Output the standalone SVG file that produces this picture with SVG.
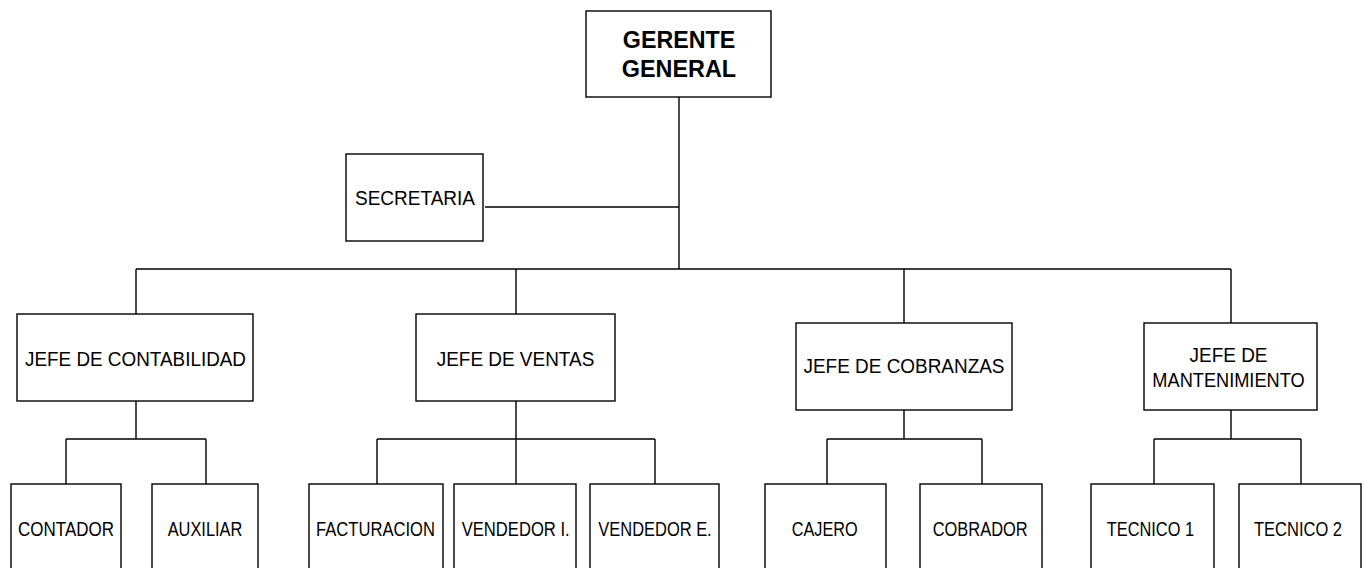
<svg xmlns="http://www.w3.org/2000/svg" width="1364" height="568" viewBox="0 0 1364 568">
  <style>
    .box { fill: #fff; stroke: #000; stroke-width: 1.4; }
    .line { fill: none; stroke: #000; stroke-width: 1.4; }
    text { font-family: "Liberation Sans", Arial, sans-serif; font-size: 20px; fill: #000; text-anchor: middle; }
    .title { font-size: 24px; font-weight: bold; }
  </style>
  <rect width="1364" height="568" fill="#fff"/>

  <!-- connectors -->
  <g id="connectors" class="line">
    <path d="M679 97 V269"/>
    <path d="M485 207 H679"/>
    <path d="M136 269 H1231"/>
    <path d="M136 269 V314 M516 269 V314 M904 269 V323 M1231 269 V323"/>
    <!-- contabilidad -->
    <path d="M136 401 V439 M66 439 H206 M66 439 V484 M206 439 V484"/>
    <!-- ventas -->
    <path d="M516 401 V439 M377 439 H655 M377 439 V484 M516 439 V484 M655 439 V484"/>
    <!-- cobranzas -->
    <path d="M904 410 V439 M827 439 H982 M827 439 V484 M982 439 V484"/>
    <!-- mantenimiento -->
    <path d="M1231 410 V439 M1154 439 H1301 M1154 439 V484 M1301 439 V484"/>
  </g>

  <g id="gerente">
    <rect class="box" x="586" y="11" width="185" height="86"/>
    <text class="title" x="679" y="48.3" textLength="112.3" lengthAdjust="spacingAndGlyphs">GERENTE</text>
    <text class="title" x="679" y="76.7" textLength="114.3" lengthAdjust="spacingAndGlyphs">GENERAL</text>
  </g>
  <g id="secretaria">
    <rect class="box" x="346" y="154" width="137" height="87"/>
    <text x="415" y="205" textLength="120" lengthAdjust="spacingAndGlyphs">SECRETARIA</text>
  </g>

  <g id="jefe-contabilidad">
    <rect class="box" x="17" y="314" width="236" height="87"/>
    <text x="135.5" y="365.5" textLength="221" lengthAdjust="spacingAndGlyphs">JEFE DE CONTABILIDAD</text>
  </g>
  <g id="jefe-ventas">
    <rect class="box" x="416" y="314" width="199" height="87"/>
    <text x="515.5" y="365.5" textLength="157.6" lengthAdjust="spacingAndGlyphs">JEFE DE VENTAS</text>
  </g>
  <g id="jefe-cobranzas">
    <rect class="box" x="796" y="323" width="216" height="87"/>
    <text x="904" y="373.3" textLength="201" lengthAdjust="spacingAndGlyphs">JEFE DE COBRANZAS</text>
  </g>
  <g id="jefe-mantenimiento">
    <rect class="box" x="1144" y="323" width="173" height="87"/>
    <text x="1228.5" y="362.3" textLength="78" lengthAdjust="spacingAndGlyphs">JEFE DE</text>
    <text x="1228.5" y="387.3" textLength="152.3" lengthAdjust="spacingAndGlyphs">MANTENIMIENTO</text>
  </g>

  <g id="contador">
    <rect class="box" x="11" y="484" width="110" height="95"/>
    <text x="66" y="536" textLength="96" lengthAdjust="spacingAndGlyphs">CONTADOR</text>
  </g>
  <g id="auxiliar">
    <rect class="box" x="152" y="484" width="106" height="95"/>
    <text x="205" y="536" textLength="74.6" lengthAdjust="spacingAndGlyphs">AUXILIAR</text>
  </g>
  <g id="facturacion">
    <rect class="box" x="309" y="484" width="134" height="95"/>
    <text x="375.5" y="536" textLength="119" lengthAdjust="spacingAndGlyphs">FACTURACION</text>
  </g>
  <g id="vendedor-i">
    <rect class="box" x="454" y="484" width="122" height="95"/>
    <text x="515.7" y="536" textLength="108" lengthAdjust="spacingAndGlyphs">VENDEDOR I.</text>
  </g>
  <g id="vendedor-e">
    <rect class="box" x="590" y="484" width="129" height="95"/>
    <text x="655" y="536" textLength="113.4" lengthAdjust="spacingAndGlyphs">VENDEDOR E.</text>
  </g>
  <g id="cajero">
    <rect class="box" x="765" y="484" width="121" height="95"/>
    <text x="824.7" y="536" textLength="66" lengthAdjust="spacingAndGlyphs">CAJERO</text>
  </g>
  <g id="cobrador">
    <rect class="box" x="920" y="484" width="122" height="95"/>
    <text x="980.2" y="536" textLength="95" lengthAdjust="spacingAndGlyphs">COBRADOR</text>
  </g>
  <g id="tecnico-1">
    <rect class="box" x="1091" y="484" width="123" height="95"/>
    <text x="1150.4" y="536" textLength="87.3" lengthAdjust="spacingAndGlyphs">TECNICO 1</text>
  </g>
  <g id="tecnico-2">
    <rect class="box" x="1239" y="484" width="122" height="95"/>
    <text x="1298" y="536" textLength="88" lengthAdjust="spacingAndGlyphs">TECNICO 2</text>
  </g>
</svg>
